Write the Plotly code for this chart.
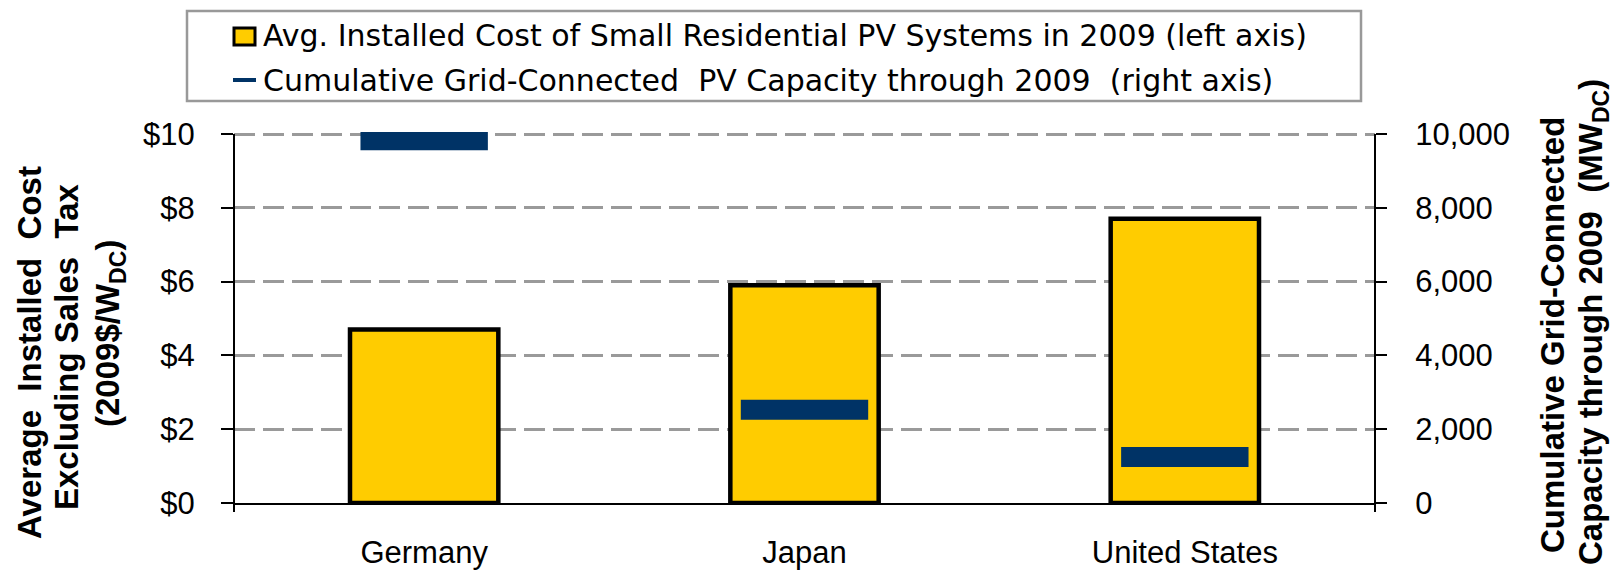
import plotly.graph_objects as go

# --- data -------------------------------------------------------------
countries = ["Germany", "Japan", "United States"]
avg_cost = [4.7, 5.9, 7.7]            # 2009$/W_DC (left axis)
cum_capacity = [9830, 2530, 1250]     # MW_DC (right axis)
cost_ticks = [0, 2, 4, 6, 8, 10]
cost_tick_text = ["$0", "$2", "$4", "$6", "$8", "$10"]
cap_ticks = [0, 2000, 4000, 6000, 8000, 10000]
cap_tick_text = ["0", "2,000", "4,000", "6,000", "8,000", "10,000"]

legend_labels = [
    "Avg. Installed Cost of Small Residential PV Systems in 2009 (left axis)",
    "Cumulative Grid-Connected  PV Capacity through 2009  (right axis)",
]

YELLOW = "#FFCC00"
NAVY = "#003366"
GRID = "#9a9a9a"
TICK_FONT = dict(family="Liberation Sans, Arial, sans-serif", size=31, color="black")
TITLE_FONT = dict(family="Liberation Sans, Arial, sans-serif", size=33, color="black")

# plot-area geometry in pixels (the top is padded by 2 px so the
# $10 gridline is not clipped at the plot edge)
FIG_W, FIG_H = 1614, 573
L, T, R, B = 234, 132, 239, 70
W = FIG_W - L - R
H = FIG_H - T - B
TOP_PAD = 2
Y_MAX = 10 * H / (H - TOP_PAD)


def px(x):
    return (x - L) / W


def py(y):
    return (T + H - y) / H


fig = go.Figure()

fig.add_trace(go.Bar(
    x=countries, y=avg_cost, width=0.39,
    marker=dict(color=YELLOW, line=dict(color="black", width=4.5)),
    name=legend_labels[0], showlegend=False, yaxis="y",
))

fig.add_trace(go.Scatter(
    x=countries, y=cum_capacity, mode="markers",
    marker=dict(symbol="line-ew", size=91, color=NAVY,
                line=dict(color=NAVY, width=20)),
    name=legend_labels[1], showlegend=False, yaxis="y2",
))

# hand-built legend box
shapes = [
    dict(type="rect", xref="paper", yref="paper",
         x0=px(187), x1=px(1361), y0=py(101), y1=py(11),
         line=dict(color="#999999", width=2.5), fillcolor="white", layer="above"),
    dict(type="rect", xref="paper", yref="paper",
         x0=px(234), x1=px(255), y0=py(45), y1=py(28),
         line=dict(color="black", width=3), fillcolor=YELLOW, layer="above"),
    dict(type="line", xref="paper", yref="paper",
         x0=px(233), x1=px(256), y0=py(80), y1=py(80),
         line=dict(color=NAVY, width=4), layer="above"),
]

LEG_FONT = dict(family="DejaVu Sans, sans-serif", size=30, color="black")
annotations = [
    dict(text=legend_labels[0], xref="paper", yref="paper", x=px(261), y=py(36),
         xanchor="left", yanchor="middle", showarrow=False, font=LEG_FONT),
    dict(text=legend_labels[1], xref="paper", yref="paper", x=px(261), y=py(81),
         xanchor="left", yanchor="middle", showarrow=False, font=LEG_FONT),
]

# axis titles, one annotation per line
left_title = [
    ("<b>Average  Installed  Cost</b>", 29, 353),
    ("<b>Excluding Sales  Tax</b>", 66, 347),
    ("<b>(2009$/W<sub>DC</sub>)</b>", 110, 334),
]
right_title = [
    ("<b>Cumulative Grid-Connected</b>", 1552, 335),
    ("<b>Capacity through 2009  (MW<sub>DC</sub>)</b>", 1593, 322),
]
for text, x, y in left_title + right_title:
    annotations.append(dict(
        text=text, xref="paper", yref="paper", x=px(x), y=py(y),
        xanchor="center", yanchor="middle", textangle=-90,
        showarrow=False, font=TITLE_FONT,
    ))

fig.update_layout(
    width=FIG_W, height=FIG_H,
    margin=dict(l=L, r=R, t=T, b=B, autoexpand=False),
    paper_bgcolor="white", plot_bgcolor="white",
    showlegend=False,
    shapes=shapes, annotations=annotations,
    xaxis=dict(
        type="category", showgrid=False, showline=True, linecolor="black",
        linewidth=2, ticks="", tickfont=TICK_FONT, ticklabelstandoff=21,
        zeroline=False,
    ),
    yaxis=dict(
        range=[0, Y_MAX], tickvals=cost_ticks, ticktext=cost_tick_text,
        showgrid=True, gridcolor=GRID, gridwidth=2.5, griddash="21px,8px",
        showline=False,
        ticks="outside", ticklen=12, tickwidth=2, tickcolor="black",
        tickfont=TICK_FONT, ticklabelstandoff=20, zeroline=False,
    ),
    yaxis2=dict(
        range=[0, Y_MAX * 1000], tickvals=cap_ticks, ticktext=cap_tick_text,
        overlaying="y", side="right", showgrid=False,
        showline=False,
        ticks="outside", ticklen=11, tickwidth=2, tickcolor="black",
        tickfont=TICK_FONT, ticklabelstandoff=22, zeroline=False,
    ),
)

# vertical axis lines stop at the $10 / 10,000 tick rather than the padded top
for side_x in (0, 1):
    fig.add_shape(type="line", xref="paper", yref="paper",
                  x0=side_x, x1=side_x, y0=py(512), y1=py(134),
                  line=dict(color="black", width=2), layer="above")

fig.write_html("out.html")
